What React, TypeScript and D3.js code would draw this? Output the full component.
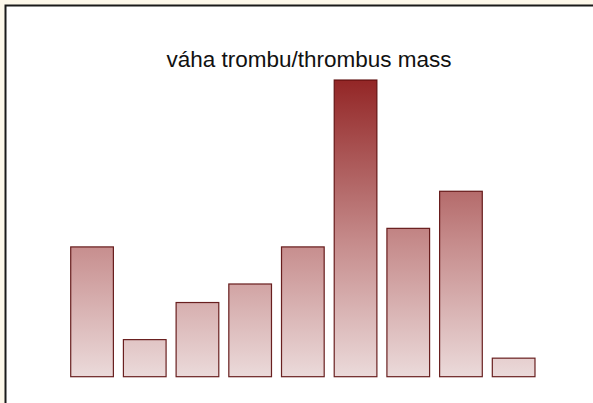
import { useEffect, useRef } from 'react';
import * as d3 from 'd3';

// one bar per sample, no axis labels in the original
const categories = ['1', '2', '3', '4', '5', '6', '7', '8', '9'];
const values = [7, 2, 4, 5, 7, 16, 8, 10, 1];
const title = 'váha trombu/thrombus mass';

const App = () => {
    const svgRef = useRef<SVGSVGElement | null>(null);
    const width = 593;
    const height = 403;

    useEffect(() => {
        const svg = d3.select(svgRef.current);
        svg.selectAll('*').remove();

        // cream page + framed white panel
        svg.append('rect')
            .attr('width', width)
            .attr('height', height)
            .attr('fill', '#fdf8ea');
        svg.append('rect')
            .attr('x', 5.5)
            .attr('y', 5.5)
            .attr('width', width + 10)
            .attr('height', height + 10)
            .attr('fill', '#ffffff')
            .attr('stroke', '#1a1a1a')
            .attr('stroke-width', 2);

        const xScale = d3.scaleBand<string>()
            .domain(categories)
            .range([65.7, 540])
            .paddingInner(0.19)
            .paddingOuter(0.095);

        const yScale = d3.scaleLinear()
            .domain([0, 16])
            .range([376.7, 80]);

        const defs = svg.append('defs');
        const grad = defs.append('linearGradient')
            .attr('id', 'barGrad')
            .attr('gradientUnits', 'userSpaceOnUse')
            .attr('x1', 0).attr('x2', 0)
            .attr('y1', yScale(16)).attr('y2', yScale(0));
        grad.append('stop').attr('offset', '0%').attr('stop-color', '#932626');
        grad.append('stop').attr('offset', '38%').attr('stop-color', '#b56c6c');
        grad.append('stop').attr('offset', '55%').attr('stop-color', '#c68c8c');
        grad.append('stop').attr('offset', '100%').attr('stop-color', '#ebdada');

        svg.append('text')
            .text(title)
            .attr('x', 309)
            .attr('y', 67)
            .attr('text-anchor', 'middle')
            .attr('font-family', 'Arial, "Liberation Sans", sans-serif')
            .attr('font-size', 22.5)
            .attr('fill', '#111');

        svg.append('g')
            .selectAll('rect')
            .data(values)
            .join('rect')
            .attr('x', (d, i) => xScale(categories[i]) as number)
            .attr('y', d => yScale(d))
            .attr('width', xScale.bandwidth())
            .attr('height', d => yScale(0) - yScale(d))
            .attr('fill', 'url(#barGrad)')
            .attr('stroke', '#5a0a0a')
            .attr('stroke-opacity', 0.9)
            .attr('stroke-width', 1.2);
    }, []);

    return (
        <div>
            <svg
                ref={svgRef}
                width={width}
                height={height}
                style={{ position: 'absolute', left: 0, top: 0 }}
            ></svg>
        </div>
    );
};

export default App;
